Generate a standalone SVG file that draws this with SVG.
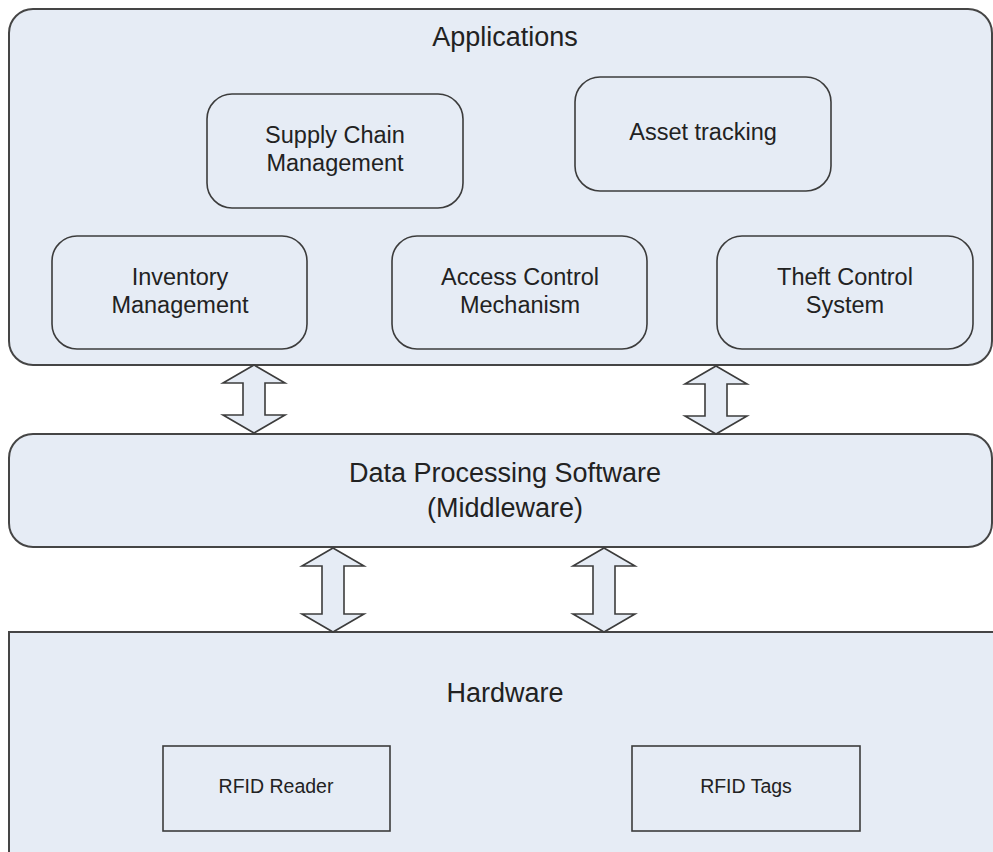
<svg xmlns="http://www.w3.org/2000/svg" width="993" height="852" viewBox="0 0 993 852">
  <style>
    .layer { fill: #e6ecf5; stroke: #454545; stroke-width: 2; }
    .box { fill: #e6ecf5; stroke: #3c3c3c; stroke-width: 1.6; }
    .arrow { fill: #e6ecf5; stroke: #3c3c3c; stroke-width: 1.6; stroke-linejoin: miter; }
    text { font-family: "Liberation Sans", Arial, sans-serif; fill: #222222; text-anchor: middle; }
    .title { font-size: 27px; }
    .label { font-size: 23.5px; }
    .small { font-size: 19.5px; }
  </style>
  <rect width="993" height="852" fill="#ffffff"/>

  <!-- Applications layer -->
  <g id="applications">
    <rect class="layer" x="9" y="9" width="983" height="356" rx="24" ry="24"/>
    <text class="title" x="505" y="46">Applications</text>
  </g>
  <g id="supply-chain">
    <rect class="box" x="207" y="94" width="256" height="114" rx="25" ry="25"/>
    <text class="label" x="335" y="143">Supply Chain</text>
    <text class="label" x="335" y="171">Management</text>
  </g>
  <g id="asset-tracking">
    <rect class="box" x="575" y="77" width="256" height="114" rx="25" ry="25"/>
    <text class="label" x="703" y="140">Asset tracking</text>
  </g>
  <g id="inventory">
    <rect class="box" x="52" y="236" width="255" height="113" rx="25" ry="25"/>
    <text class="label" x="180" y="285">Inventory</text>
    <text class="label" x="180" y="313">Management</text>
  </g>
  <g id="access-control">
    <rect class="box" x="392" y="236" width="255" height="113" rx="25" ry="25"/>
    <text class="label" x="520" y="285">Access Control</text>
    <text class="label" x="520" y="313">Mechanism</text>
  </g>
  <g id="theft-control">
    <rect class="box" x="717" y="236" width="256" height="113" rx="25" ry="25"/>
    <text class="label" x="845" y="285">Theft Control</text>
    <text class="label" x="845" y="313">System</text>
  </g>

  <!-- Middleware layer -->
  <g id="middleware">
    <rect class="layer" x="9" y="434" width="983" height="113" rx="24" ry="24"/>
    <text class="title" x="505" y="482">Data Processing Software</text>
    <text class="title" x="505" y="517">(Middleware)</text>
  </g>

  <!-- Hardware layer -->
  <g id="hardware">
    <rect class="layer" x="9" y="632" width="1000" height="240"/>
    <text class="title" x="505" y="702">Hardware</text>
  </g>
  <g id="rfid-reader">
    <rect class="box" x="163" y="746" width="227" height="85"/>
    <text class="small" x="276" y="793">RFID Reader</text>
  </g>
  <g id="rfid-tags">
    <rect class="box" x="632" y="746" width="228" height="85"/>
    <text class="small" x="746" y="793">RFID Tags</text>
  </g>

  <!-- Two-way block arrows between layers -->
  <g id="connectors">
    <path class="arrow" d="M254,365 L285,383 L265,383 L265,415 L285,415 L254,433 L223,415 L243,415 L243,383 L223,383 Z"/>
    <path class="arrow" d="M716,366 L747,384 L727,384 L727,416 L747,416 L716,434 L685,416 L705,416 L705,384 L685,384 Z"/>
    <path class="arrow" d="M333,548 L364,566 L344,566 L344,614 L364,614 L333,632 L302,614 L322,614 L322,566 L302,566 Z"/>
    <path class="arrow" d="M604,548 L635,566 L615,566 L615,614 L635,614 L604,632 L573,614 L593,614 L593,566 L573,566 Z"/>
  </g>
</svg>
